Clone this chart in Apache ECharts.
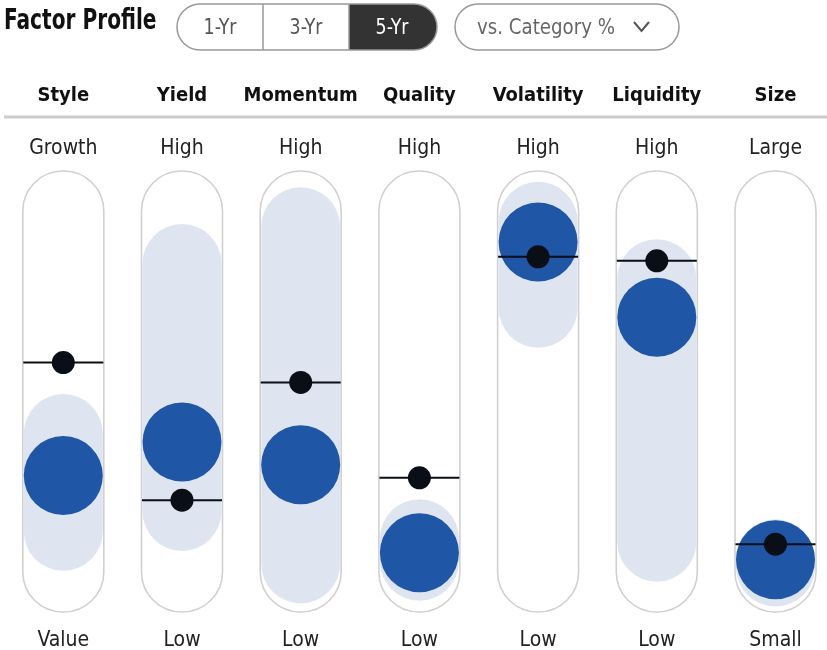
<!DOCTYPE html>
<html lang="en">
<head>
<meta charset="UTF-8">
<title>Factor Profile</title>
<script src="https://cdn.jsdelivr.net/npm/echarts@6.0.0/dist/echarts.min.js"></script>
<style>html,body{margin:0;padding:0;background:#fff;}</style>
</head>
<body>
<div id="main" style="width:827px;height:650px;"></div>
<script type="text/javascript">
// factor columns and end labels
const factors = ['Style', 'Yield', 'Momentum', 'Quality', 'Volatility', 'Liquidity', 'Size'];
const highLabels = ['Growth', 'High', 'High', 'High', 'High', 'High', 'Large'];
const lowLabels = ['Value', 'Low', 'Low', 'Low', 'Low', 'Low', 'Small'];
// positions on a 0-100 scale (0 = low end, 100 = high end)
const fundValues = [26.7, 36.0, 29.7, 5.3, 91.4, 70.6, 3.4];
const categoryAvg = [58.0, 19.9, 52.5, 26.1, 87.3, 86.2, 7.7];
const rangeLow = [11.4, 16.9, 2.4, 3.1, 73.2, 8.4, 1.5];
const rangeHigh = [38.2, 85.3, 95.5, 9.1, 97.0, 81.1, 3.5];
const periods = ['1-Yr', '3-Yr', '5-Yr'];
const activePeriod = '5-Yr';

const FONT = '"DejaVu Sans Condensed", "Liberation Sans", sans-serif';
const HALF = 40; // half width of the pill tracks

let myChart = echarts.init(document.getElementById('main'));

function renderTrack(params, api) {
    const top = api.coord([api.value(0), 100]);
    const bot = api.coord([api.value(0), 0]);
    return {
        type: 'rect',
        shape: { x: top[0] - HALF - 0.5, y: top[1] - HALF, width: 2 * HALF + 1, height: bot[1] - top[1] + 2 * HALF, r: HALF },
        style: { fill: '#fff', stroke: '#d0d0d0', lineWidth: 1.6 }
    };
}

function renderBand(params, api) {
    const hi = api.coord([api.value(0), api.value(2)]);
    const lo = api.coord([api.value(0), api.value(1)]);
    return {
        type: 'rect',
        shape: { x: hi[0] - HALF + 0.5, y: hi[1] - HALF, width: 2 * HALF - 1, height: lo[1] - hi[1] + 2 * HALF, r: HALF - 0.5 },
        style: { fill: '#dfe5f0' }
    };
}

function renderAvg(params, api) {
    const p = api.coord([api.value(0), api.value(1)]);
    return {
        type: 'group',
        children: [
            { type: 'line', shape: { x1: p[0] - HALF, y1: p[1], x2: p[0] + HALF, y2: p[1] }, style: { stroke: '#0a0e17', lineWidth: 2 } },
            { type: 'circle', shape: { cx: p[0], cy: p[1], r: 11.5 }, style: { fill: '#0a0e17' } }
        ]
    };
}

// title, period toggle + dropdown (static controls)
const segX = 177, segW = 86, segY = 4, segH = 46;
let controls = [
    { type: 'text', x: 4, y: 22, scaleX: 0.8, style: { text: 'Factor Profile', font: 'bold 28px ' + FONT, fill: '#111', verticalAlign: 'middle' } },
    { type: 'line', shape: { x1: 4, y1: 117, x2: 827, y2: 117 }, style: { stroke: '#ccc', lineWidth: 3 } }
];
periods.forEach((p, i) => {
    const x = segX + i * segW;
    const active = p === activePeriod;
    if (active) {
        controls.push({ type: 'rect', shape: { x: x, y: segY, width: segW + 2, height: segH, r: i === 0 ? [23, 0, 0, 23] : (i === periods.length - 1 ? [0, 23, 23, 0] : 0) }, style: { fill: '#333' } });
    }
    controls.push({ type: 'text', x: x + segW / 2, y: segY + segH / 2 + 1, scaleX: 0.88, style: { text: p, font: '22px ' + FONT, fill: active ? '#fff' : '#555', align: 'center', verticalAlign: 'middle' } });
    if (i > 0) {
        controls.push({ type: 'line', shape: { x1: x, y1: segY, x2: x, y2: segY + segH }, style: { stroke: '#999', lineWidth: 1.5 } });
    }
});
controls.push({ type: 'rect', shape: { x: segX, y: segY, width: segW * periods.length + 2, height: segH, r: 23 }, style: { fill: 'none', stroke: '#999', lineWidth: 1.5 } });
controls.push({ type: 'rect', shape: { x: 455, y: segY, width: 224, height: segH, r: 23 }, style: { fill: 'none', stroke: '#999', lineWidth: 1.5 } });
controls.push({ type: 'text', x: 477, y: segY + segH / 2 + 1, scaleX: 0.92, style: { text: 'vs. Category %', font: '22px ' + FONT, fill: '#666', verticalAlign: 'middle' } });
controls.push({ type: 'polyline', shape: { points: [[634, 22], [641.5, 31], [649, 22]] }, style: { stroke: '#555', lineWidth: 2, fill: 'none' } });

let options = {
    animation: false,
    // labels at the bottom run off the page, like the original: don't let the grid shrink for them
    grid: { left: 63.3, top: 211, width: 712.2, height: 361, outerBoundsMode: 'none', containLabel: false },
    xAxis: [
        {
            type: 'category', data: lowLabels, position: 'bottom', boundaryGap: false,
            axisLine: { show: false }, axisTick: { show: false },
            axisLabel: { interval: 0, margin: 58, fontFamily: FONT, fontSize: 21, color: '#222' }
        },
        {
            type: 'category', data: highLabels, position: 'top', boundaryGap: false,
            axisLine: { show: false }, axisTick: { show: false },
            axisLabel: { interval: 0, margin: 52, fontFamily: FONT, fontSize: 21, color: '#222' }
        },
        {
            type: 'category', data: factors, position: 'top', offset: 94, boundaryGap: false,
            axisLine: { show: false }, axisTick: { show: false },
            axisLabel: { interval: 0, margin: 11, fontFamily: FONT, fontSize: 20, fontWeight: 'bold', color: '#111' }
        }
    ],
    yAxis: { type: 'value', min: 0, max: 100, show: false },
    graphic: controls,
    series: [
        { name: 'track', type: 'custom', renderItem: renderTrack, data: factors.map((f, i) => [i]), z: 1, silent: true },
        { name: 'range', type: 'custom', renderItem: renderBand, data: factors.map((f, i) => [i, rangeLow[i], rangeHigh[i]]), z: 2, silent: true },
        { name: 'fund', type: 'scatter', symbolSize: 79, itemStyle: { color: '#1f56a5', opacity: 1 }, data: factors.map((f, i) => [i, fundValues[i]]), z: 3 },
        { name: 'category', type: 'custom', renderItem: renderAvg, data: factors.map((f, i) => [i, categoryAvg[i]]), z: 4 }
    ]
};

myChart.setOption(options);
</script>
</body>
</html>
